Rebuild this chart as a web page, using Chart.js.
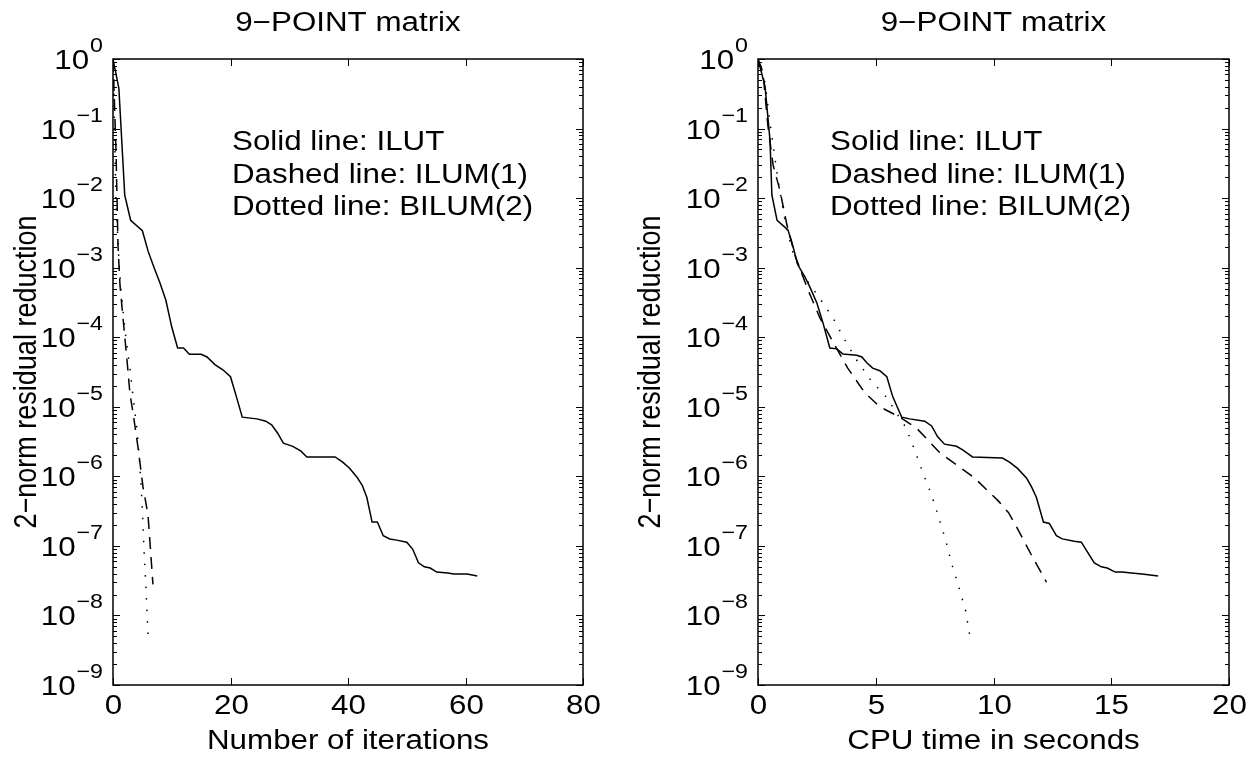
<!DOCTYPE html>
<html>
<head>
<meta charset="utf-8">
<script src="https://cdn.jsdelivr.net/npm/chart.js@4/dist/chart.umd.min.js"></script>
<style>
html, body { margin: 0; padding: 0; background: #fff; }
#wrap { position: relative; width: 1258px; height: 761px; }
canvas { position: absolute; top: 0; }
</style>
</head>
<body>
<div id="wrap">
  <canvas id="c_iter" width="629" height="761" style="left:0"></canvas>
  <canvas id="c_cpu" width="629" height="761" style="left:629px"></canvas>
</div>
<script>
// ---- data ----
// left panel: residual vs number of iterations
var iterIlut  = [0, 1, 2, 3, 5, 6, 7, 8, 9, 10, 11, 12, 13, 15, 16, 17.4, 18.7, 20, 21, 22, 24.5, 26, 27, 28, 29, 30.6, 32, 33, 37.8, 39.1, 40.3, 41.5, 42.4, 43.2, 44.1, 45, 46, 47.1, 48.3, 50, 51, 52, 53, 54, 55.1, 57, 58, 60.3, 62];
var resIlutIt = [1, 0.38, 0.011, 4.8e-3, 3.4e-3, 1.7e-3, 1.0e-3, 6.0e-4, 3.4e-4, 1.4e-4, 7.0e-5, 7.0e-5, 5.7e-5, 5.7e-5, 5.2e-5, 4.0e-5, 3.4e-5, 2.7e-5, 1.4e-5, 7.1e-6, 6.7e-6, 6.2e-6, 5.5e-6, 4.2e-6, 3.0e-6, 2.7e-6, 2.3e-6, 1.9e-6, 1.9e-6, 1.6e-6, 1.3e-6, 9.8e-7, 7.5e-7, 5.0e-7, 2.2e-7, 2.2e-7, 1.4e-7, 1.26e-7, 1.21e-7, 1.13e-7, 9.0e-8, 5.7e-8, 5.0e-8, 4.8e-8, 4.2e-8, 4.07e-8, 3.95e-8, 3.95e-8, 3.7e-8];
var iterIlum  = [0, 0.51, 0.85, 1.19, 1.7, 2.38, 2.9, 3.4, 4.26, 5.1, 5.96, 6.8];
var resIlumIt = [1, 0.049, 2.1e-3, 5.6e-4, 1.9e-4, 4.7e-5, 1.5e-5, 8.3e-6, 2.6e-6, 7.1e-7, 2.8e-7, 2.8e-8];
var iterBilum  = [0, 0.51, 1.02, 1.36, 2.04, 2.9, 3.57, 4.09, 4.6, 4.94, 5.28, 5.62, 5.96];
var resBilumIt = [1, 9.3e-3, 1.2e-3, 4.8e-4, 1.26e-4, 3.4e-5, 1.07e-5, 4.7e-6, 1.35e-6, 4.2e-7, 8.7e-8, 2.3e-8, 5.4e-9];

// right panel: residual vs CPU time
var cpuIlut  = [0, 0.30, 0.51, 0.59, 0.81, 1.27, 1.44, 1.69, 1.99, 2.20, 2.50, 2.75, 3.05, 3.35, 3.60, 4.19, 4.41, 4.62, 4.87, 5.17, 5.47, 5.72, 6.10, 6.44, 7.08, 7.37, 7.63, 7.92, 8.43, 8.69, 9.11, 10.38, 10.68, 11.02, 11.40, 11.61, 11.82, 12.12, 12.37, 12.67, 12.92, 13.43, 13.73, 13.94, 14.28, 14.58, 14.83, 15.17, 15.47, 15.85, 16.31, 16.99];
var resIlutCpu = [1, 0.40, 0.068, 0.011, 4.8e-3, 3.5e-3, 2.3e-3, 1.1e-3, 7.4e-4, 5.3e-4, 3.1e-4, 1.65e-4, 7.0e-5, 6.8e-5, 5.75e-5, 5.5e-5, 5.2e-5, 4.3e-5, 3.6e-5, 3.3e-5, 2.7e-5, 1.4e-5, 7.1e-6, 6.7e-6, 6.2e-6, 5.3e-6, 3.7e-6, 2.9e-6, 2.7e-6, 2.4e-6, 1.9e-6, 1.83e-6, 1.6e-6, 1.3e-6, 9.5e-7, 7.1e-7, 5.0e-7, 2.2e-7, 2.1e-7, 1.4e-7, 1.26e-7, 1.17e-7, 1.13e-7, 8.7e-8, 5.7e-8, 5.0e-8, 4.8e-8, 4.2e-8, 4.2e-8, 4.07e-8, 3.94e-8, 3.7e-8];
var cpuIlum  = [0, 0.21, 0.42, 0.64, 0.93, 1.23, 1.57, 2.12, 2.63, 3.14, 3.81, 4.53, 5.17, 6.02, 6.74, 7.71, 9.19, 10.21, 10.64, 10.97, 11.61, 12.25];
var resIlumCpu = [1, 0.65, 0.11, 0.030, 0.013, 4.1e-3, 1.5e-3, 4.8e-4, 1.9e-4, 9.1e-5, 3.6e-5, 1.6e-5, 1.0e-5, 7.1e-6, 4.9e-6, 2.2e-6, 9.5e-7, 4.4e-7, 3.0e-7, 1.9e-7, 7.4e-8, 3.0e-8];
var cpuBilum  = [0, 0.30, 0.51, 0.85, 1.14, 1.44, 1.86, 2.63, 3.18, 3.69, 4.19, 4.79, 5.47, 5.81, 6.27, 6.65, 6.99, 7.37, 7.67, 7.97, 8.22, 8.52, 8.81, 8.98];
var resBilumCpu = [1, 0.45, 0.12, 0.018, 4.9e-3, 1.8e-3, 8.3e-4, 3.6e-4, 1.9e-4, 9.1e-5, 4.7e-5, 2.4e-5, 1.35e-5, 8.9e-6, 5.1e-6, 2.4e-6, 1.15e-6, 5.4e-7, 2.6e-7, 1.2e-7, 5.6e-8, 2.6e-8, 1.2e-8, 5.4e-9];

var xTicksIter = [0, 20, 40, 60, 80];
var xTicksCpu = [0, 5, 10, 15, 20];
var yDecades = [0, -1, -2, -3, -4, -5, -6, -7, -8, -9];
var notes = ['Solid line: ILUT', 'Dashed line: ILUM(1)', 'Dotted line: BILUM(2)'];

var FONT = '"Liberation Sans", Arial, Helvetica, sans-serif';
var FS = 27, EXP_FS = 20, SX = 1.16;  // text in the picture is a little wider than tall

function stretchText(ctx, txt, x, y, size, align, baseline, rot) {
  ctx.save();
  ctx.translate(x, y);
  ctx.scale(SX, 1);
  if (rot) ctx.rotate(rot);
  ctx.font = size + 'px ' + FONT;
  ctx.textAlign = align;
  ctx.textBaseline = baseline;
  ctx.fillStyle = '#000';
  ctx.fillText(txt, 0, 0);
  ctx.restore();
}
function textW(ctx, txt, size) {
  ctx.font = size + 'px ' + FONT;
  return ctx.measureText(txt).width * SX;
}
function seg(ctx, x1, y1, x2, y2) {
  ctx.beginPath(); ctx.moveTo(x1, y1); ctx.lineTo(x2, y2); ctx.stroke();
}

// matlab style box, inward ticks and 10^n labels
var matlabAxes = {
  id: 'matlabAxes',
  afterDraw: function (chart, args, o) {
    var ctx = chart.ctx, a = chart.chartArea;
    var xs = chart.scales.x, ys = chart.scales.y;
    ctx.save();
    ctx.strokeStyle = '#000';
    ctx.lineWidth = 1.5;
    ctx.strokeRect(a.left, a.top, a.right - a.left, a.bottom - a.top);
    ctx.lineWidth = 1;

    o.xTicks.forEach(function (v) {
      var px = Math.round(xs.getPixelForValue(v)) + 0.5;
      seg(ctx, px, a.bottom, px, a.bottom - 7);
      seg(ctx, px, a.top, px, a.top + 7);
      stretchText(ctx, String(v), px, a.bottom + 22, FS, 'center', 'middle');
    });

    yDecades.forEach(function (e) {
      var py = Math.round(ys.getPixelForValue(Math.pow(10, e))) + 0.5;
      seg(ctx, a.left, py, a.left + 7, py);
      seg(ctx, a.right, py, a.right - 7, py);
      if (e < 0) {
        for (var m = 2; m <= 9; m++) {
          var pm = Math.round(ys.getPixelForValue(m * Math.pow(10, e))) + 0.5;
          seg(ctx, a.left, pm, a.left + 4, pm);
          seg(ctx, a.right, pm, a.right - 4, pm);
        }
      }
      var expTxt = e === 0 ? '0' : '\u2212' + (-e);
      var ew = textW(ctx, expTxt, EXP_FS);
      var R = a.left - 10;
      stretchText(ctx, expTxt, R - ew, py - 13, EXP_FS, 'left', 'middle');
      stretchText(ctx, '10', R - ew - 1, py + 2, FS, 'right', 'middle');
    });

    var cx = (a.left + a.right) / 2, cy = (a.top + a.bottom) / 2;
    stretchText(ctx, o.title, cx, 24, FS, 'center', 'middle');
    stretchText(ctx, o.xlabel, cx, a.bottom + 57, FS, 'center', 'middle');
    stretchText(ctx, o.ylabel, o.ylabelX, cy, FS, 'center', 'middle', -Math.PI / 2);

    o.notes.forEach(function (t, i) {
      stretchText(ctx, t, a.left + o.noteDx, 150 + i * 32.5, FS, 'left', 'alphabetic');
    });
    ctx.restore();
  }
};

function series(xv, yv, dash) {
  return {
    data: xv.map(function (x, i) { return { x: x, y: yv[i] }; }),
    borderColor: '#000',
    borderWidth: 1.5,
    borderDash: dash,
    pointRadius: 0,
    fill: false,
    tension: 0
  };
}

function makeChart(id, datasets, xmax, pad, axesOpts) {
  return new Chart(document.getElementById(id), {
    type: 'line',
    data: { datasets: datasets },
    options: {
      responsive: false,
      animation: false,
      events: [],
      devicePixelRatio: 1,
      layout: { padding: pad },
      scales: {
        x: { type: 'linear', min: 0, max: xmax, display: false },
        y: { type: 'logarithmic', min: 1e-9, max: 1, display: false }
      },
      plugins: {
        legend: { display: false },
        tooltip: { enabled: false },
        matlabAxes: axesOpts
      }
    },
    plugins: [matlabAxes]
  });
}

makeChart('c_iter', [
  series(iterIlut, resIlutIt, []),
  series(iterIlum, resIlumIt, [12, 8]),
  series(iterBilum, resBilumIt, [1.5, 10])
], 80, { left: 113, top: 59, right: 46, bottom: 76 }, {
  xTicks: xTicksIter,
  title: '9\u2212POINT matrix',
  xlabel: 'Number of iterations',
  ylabel: '2\u2212norm residual reduction',
  ylabelX: 27,
  noteDx: 119,
  notes: notes
});

makeChart('c_cpu', [
  series(cpuIlut, resIlutCpu, []),
  series(cpuIlum, resIlumCpu, [12, 8]),
  series(cpuBilum, resBilumCpu, [1.5, 10])
], 20, { left: 129, top: 59, right: 29, bottom: 76 }, {
  xTicks: xTicksCpu,
  title: '9\u2212POINT matrix',
  xlabel: 'CPU time in seconds',
  ylabel: '2\u2212norm residual reduction',
  ylabelX: 22,
  noteDx: 72,
  notes: notes
});
</script>
</body>
</html>
